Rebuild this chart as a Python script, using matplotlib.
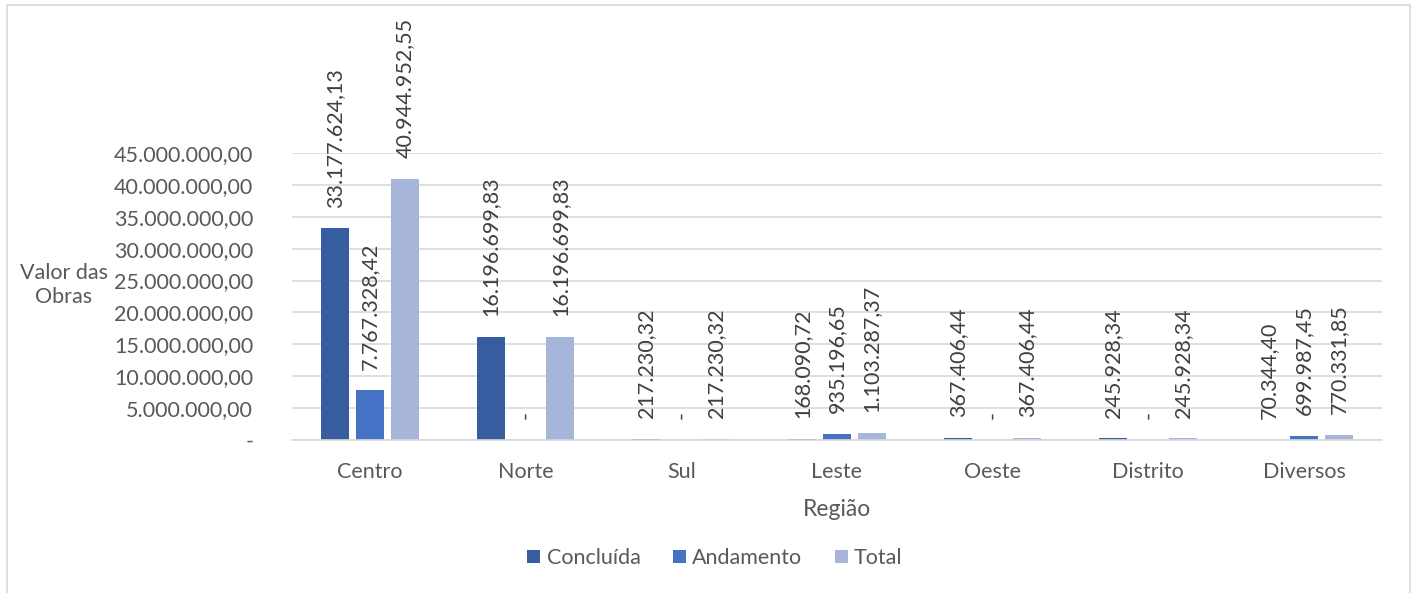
import numpy as np
import matplotlib.pyplot as plt
from matplotlib.patches import Rectangle

plt.rcParams['font.family'] = ['Lato', 'DejaVu Sans']

# data
regioes = ["Centro", "Norte", "Sul", "Leste", "Oeste", "Distrito", "Diversos"]
concluida = [33177624.13, 16196699.83, 217230.32, 168090.72, 367406.44, 245928.34, 70344.40]
andamento = [7767328.42, 0, 0, 935196.65, 0, 0, 699987.45]
total = [40944952.55, 16196699.83, 217230.32, 1103287.37, 367406.44, 245928.34, 770331.85]
yticks = np.arange(0, 45000001, 5000000)

series = [("Concluída", concluida, "#375C9F"),
          ("Andamento", andamento, "#4472C4"),
          ("Total", total, "#A8B5DA")]


def br(v):
    if v == 0:
        return "-"
    s = f"{v:,.2f}"
    return s.replace(",", "X").replace(".", ",").replace("X", ".")


fig = plt.figure(figsize=(14.19, 5.93), dpi=100)
ax = fig.add_axes([0.2058, 0.258, 0.768, 0.484])

x = np.arange(len(regioes))
w = 0.18
step = 0.224
txt = "#595959"
fs = 15.5

for i, (name, vals, col) in enumerate(series):
    pos = x + (i - 1) * step
    bars = ax.bar(pos, vals, width=w, color=col, label=name, zorder=2)
    for b, v in zip(bars, vals):
        ax.annotate(br(v), (b.get_x() + b.get_width() / 2, v),
                    xytext=(0, 15), textcoords="offset points",
                    rotation=90, ha="center", va="bottom",
                    fontsize=fs, color="#404040", annotation_clip=False)

ax.set_xlim(-0.5, len(regioes) - 0.5)
ax.set_ylim(0, 45000000)
ax.set_yticks(yticks)
ax.set_yticklabels([br(t) for t in yticks], fontsize=fs, color=txt)
ax.set_xticks(x)
ax.set_xticklabels(regioes, fontsize=fs, color=txt)
ax.tick_params(length=0)
ax.tick_params(axis="x", pad=16)
ax.tick_params(axis="y", pad=28)
ax.yaxis.grid(True, color="#D9D9D9", linewidth=1.2, zorder=0)
ax.set_axisbelow(True)
for s in ["top", "right", "left"]:
    ax.spines[s].set_visible(False)
ax.spines["bottom"].set_color("#D9D9D9")
ax.spines["bottom"].set_linewidth(1.2)

fig.text(64 / 1419, 1 - 285 / 593, "Valor das\nObras", ha="center", va="center",
         fontsize=15.5, color=txt, linespacing=1.25)
fig.text(837 / 1419, 1 - 510 / 593, "Região", ha="center", va="center",
         fontsize=16.5, color=txt)

fig.legend(loc="center", bbox_to_anchor=(715 / 1419, 1 - 558 / 593), ncol=3,
           frameon=False, fontsize=fs, handlelength=0.6, handleheight=0.6,
           handletextpad=0.3, columnspacing=1.5, labelcolor=txt)

fig.patches.append(Rectangle((7 / 1419, -0.05), 1403 / 1419, 1.0 - 5 / 593 + 0.05,
                             transform=fig.transFigure, fill=False,
                             edgecolor="#D9D9D9", linewidth=1.2))

fig.savefig("out.png", dpi=100)
